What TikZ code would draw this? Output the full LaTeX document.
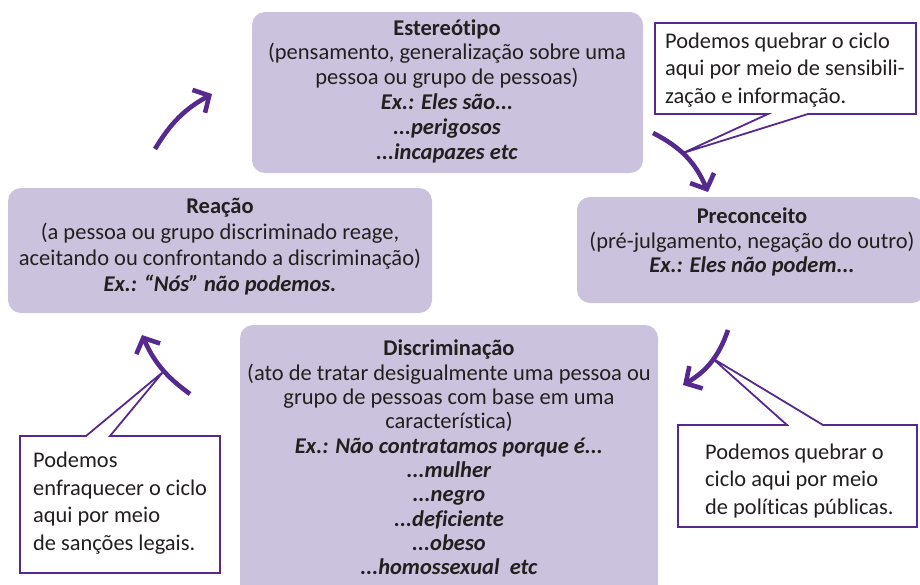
\documentclass[tikz,border=0pt]{standalone}
\usepackage{fontspec}
\setmainfont[Ligatures=NoCommon]{Carlito}
\usetikzlibrary{arrows.meta}
\definecolor{boxfill}{HTML}{CBC3DD}
\definecolor{cycpurple}{HTML}{56298E}
\definecolor{txt}{HTML}{231F20}
\begin{document}
\begin{tikzpicture}[x=1pt,y=-1pt,
  cycbox/.style={fill=boxfill, rounded corners=13pt, inner sep=0pt},
  boxtext/.style={align=center, text=txt, font=\fontsize{22.5}{24.8}\selectfont, inner sep=0pt},
  notetext/.style={align=left, text=txt, font=\fontsize{22.4}{27.5}\selectfont, inner sep=0pt, anchor=west},
  callout/.style={draw=cycpurple, fill=white, line width=1.8pt, line join=miter},
  cyclearrow/.style={draw=cycpurple, line width=4.6pt, -{Straight Barb[length=12pt,width=26pt]}}]
\useasboundingbox (0,0) rectangle (920,584);

% cycle boxes
\node[cycbox, minimum width=391pt, minimum height=161pt] (estbox) at (447.5,92.5) {};
\node[cycbox, minimum width=424pt, minimum height=125pt] (reabox) at (220,250.5) {};
\node[cycbox, minimum width=348pt, minimum height=106pt] (prebox) at (751,250) {};
\node[cycbox, minimum width=418pt, minimum height=275pt] (disbox) at (449,462.5) {};

\node[boxtext] (esttext) at (447,91) {\textbf{Estereótipo}\\(pensamento, generalização sobre uma\\pessoa ou grupo de pessoas)\\\textbf{\textit{Ex.: Eles são...}}\\\textbf{\textit{...perigosos}}\\\textbf{\textit{...incapazes etc}}};
\node[boxtext, font=\fontsize{22.5}{26}\selectfont] (reatext) at (220,247) {\textbf{Reação}\\(a pessoa ou grupo discriminado reage,\\aceitando ou confrontando a discriminação)\\\textbf{\textit{Ex.: “Nós” não podemos.}}};
\node[boxtext] (pretext) at (752,242) {\textbf{Preconceito}\\(pré-julgamento, negação do outro)\\\textbf{\textit{Ex.: Eles não podem...}}};
\node[boxtext, font=\fontsize{22.5}{24.3}\selectfont] (distext) at (449,457.5) {\textbf{Discriminação}\\(ato de tratar desigualmente uma pessoa ou\\grupo de pessoas com base em uma\\característica)\\\textbf{\textit{Ex.: Não contratamos porque é...}}\\\textbf{\textit{...mulher}}\\\textbf{\textit{...negro}}\\\textbf{\textit{...deficiente}}\\\textbf{\textit{...obeso}}\\\textbf{\textit{...homossexual\ \ etc}}};

% callout tips
\coordinate (t1) at (683,153);
\coordinate (t2) at (712,358);
\coordinate (t3) at (163,372);

% callouts
\draw[callout] (655,23) -- (916,23) -- (916,114) -- (808,114) -- (t1) -- (768,114) -- (655,114) -- cycle;
\draw[callout] (678,425) -- (787,425) -- (t2) -- (823,425) -- (917,425) -- (917,527) -- (678,527) -- cycle;
\draw[callout] (20,436) -- (86,436) -- (t3) -- (110,436) -- (220,436) -- (220,573) -- (20,573) -- cycle;

\node[notetext] (note1) at (665,70) {Podemos quebrar o ciclo\\aqui por meio de sensibili-\\zação e informação.};
\node[notetext] (note2) at (705,481) {Podemos quebrar o\\ciclo aqui por meio\\de políticas públicas.};
\node[notetext] (note3) at (33,503) {Podemos\\enfraquecer o ciclo\\aqui por meio\\de sanções legais.};

% cycle arrows
\coordinate (a1s) at (155,149); \coordinate (a1e) at (212,94);
\coordinate (a2s) at (653,133); \coordinate (a2e) at (708,192);
\coordinate (a3s) at (728,330); \coordinate (a3e) at (683,385);
\coordinate (a4s) at (190,394); \coordinate (a4e) at (142,335);
\draw[cyclearrow] (a1s) to[bend left=15] (a1e);
\draw[cyclearrow] (a2s) to[bend left=20] (a2e);
\draw[cyclearrow] (a3s) to[bend left=20] (a3e);
\draw[cyclearrow] (a4s) to[bend left=15] (a4e);
\end{tikzpicture}
\end{document}
